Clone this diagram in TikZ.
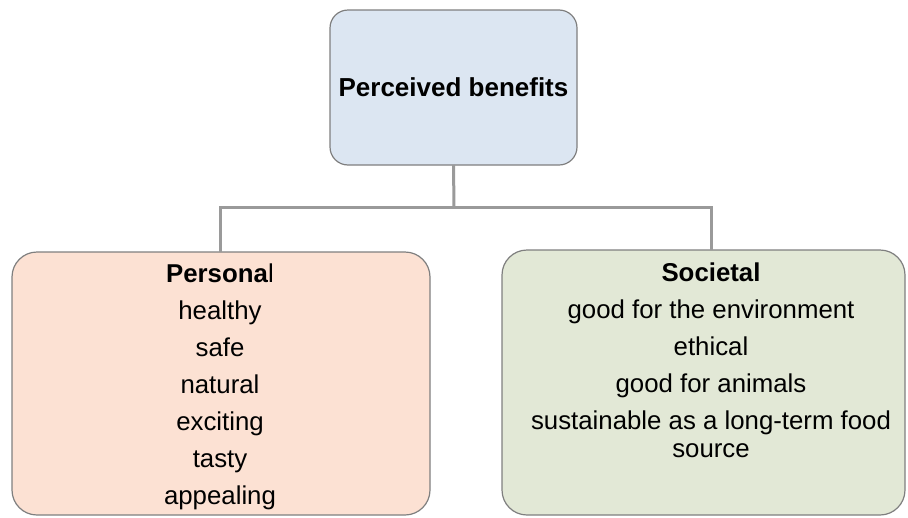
\documentclass[tikz,border=0pt]{standalone}
\usepackage{fontspec}
\setmainfont{Liberation Sans}
\definecolor{topfill}{HTML}{DCE6F2}
\definecolor{leftfill}{HTML}{FCE1D3}
\definecolor{rightfill}{HTML}{E2E8D6}
\definecolor{boxline}{HTML}{7F7F7F}
\definecolor{connline}{HTML}{9A9A9A}
\tikzset{
  box/.style={draw=boxline, line width=1.2pt, rectangle, inner sep=0pt, outer sep=0pt},
  conn/.style={draw=connline, line width=3pt},
  listtext/.style={align=center, inner sep=0pt, anchor=north, font=\fontsize{25.8}{28}\selectfont}
}
\begin{document}
\begin{tikzpicture}[x=1pt,y=-1pt]
\useasboundingbox (0,0) rectangle (908,517);
\node[box, fill=topfill, rounded corners=18pt, minimum width=247pt, minimum height=155pt,
      font=\bfseries\fontsize{26}{30}\selectfont] (top) at (453.5,87.5) {Perceived benefits};
\node[box, fill=leftfill, rounded corners=25pt, minimum width=418pt, minimum height=263pt] (pbox) at (221,383.5) {};
\node[box, fill=rightfill, rounded corners=25pt, minimum width=403pt, minimum height=265pt] (sbox) at (703.5,382.5) {};
\node[listtext] (ptext) at (220,264) {\textbf{Persona}l\\[9pt]healthy\\[9pt]safe\\[9pt]natural\\[9pt]exciting\\[9pt]tasty\\[9pt]appealing};
\node[listtext] (stext) at (711,263) {\textbf{Societal}\\[9pt]good for the environment\\[9pt]ethical\\[9pt]good for animals\\[9pt]sustainable as a long-term food\\source};
\coordinate (hub) at (454,207);
\draw[conn] (top.south) -- (hub);
\draw[conn] (pbox.north -| ptext.north) |- (hub) -| (sbox.north -| stext.north);
\end{tikzpicture}
\end{document}
